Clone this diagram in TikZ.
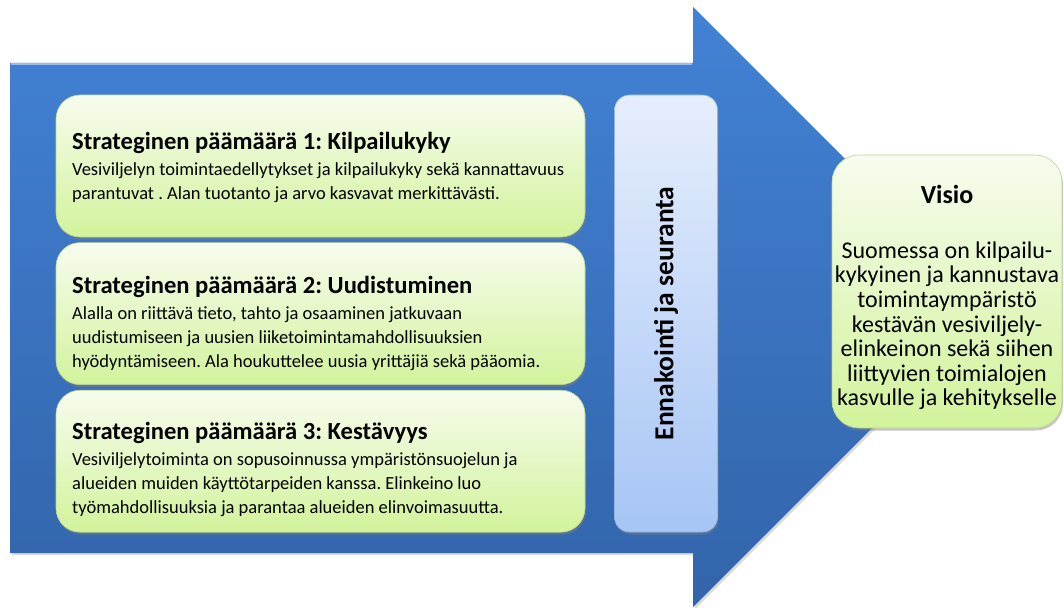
\documentclass[tikz,border=0pt]{standalone}
\usepackage{fontspec}
\setmainfont{Carlito}
\usetikzlibrary{positioning,shadows}
\frenchspacing

\definecolor{arrowtop}{RGB}{66,130,213}
\definecolor{arrowbot}{RGB}{50,100,170}
\definecolor{goaltop}{RGB}{247,252,238}
\definecolor{goalbot}{RGB}{210,243,155}
\definecolor{goalline}{RGB}{184,214,140}
\definecolor{sidetop}{RGB}{230,238,252}
\definecolor{sidebot}{RGB}{166,197,245}
\definecolor{sideline}{RGB}{150,180,225}

\tikzset{
  goalbox/.style={rounded corners=24pt, draw=goalline, line width=0.6pt,
    top color=goaltop, bottom color=goalbot, minimum width=529pt, minimum height=142pt,
    drop shadow={opacity=0.45, shadow xshift=1pt, shadow yshift=-2.5pt}},
  sidebox/.style={rounded corners=15pt, draw=sideline, line width=0.6pt,
    top color=sidetop, bottom color=sidebot, minimum width=103pt, minimum height=437pt,
    drop shadow={opacity=0.45, shadow xshift=1pt, shadow yshift=-2.5pt}},
  visiobox/.style={goalbox, rounded corners=27pt, minimum width=230pt, minimum height=273pt},
  headtext/.style={anchor=base west, inner sep=0pt, font=\fontsize{24.6}{29}\selectfont\bfseries},
  bodytext/.style={anchor=north west, yshift=16.8pt, inner sep=0pt, align=left,
    font=\fontsize{18.5}{24}\selectfont},
  sidetext/.style={rotate=90, inner sep=0pt, font=\fontsize{27.5}{32}\selectfont\bfseries},
  visiotitle/.style={anchor=base, inner sep=0pt, font=\fontsize{26}{31}\selectfont\bfseries},
  visiotext/.style={anchor=north, yshift=17.2pt, inner sep=0pt, align=center,
    font=\fontsize{24}{24.6}\selectfont}
}

\begin{document}
\begin{tikzpicture}[x=1pt,y=-1pt,node distance=5pt]
  \useasboundingbox (0,0) rectangle (1064,607);

  % the big arrow
  \shade[top color=arrowtop, bottom color=arrowbot,
    drop shadow={opacity=0.3, shadow xshift=2pt, shadow yshift=-2pt}]
    (10,63) -- (693,63) -- (693,7) -- (993,307) -- (693,607) -- (693,553) -- (10,553) -- cycle;
  \draw[arrowtop!55!white, line width=1.2pt] (11,64) -- (692,64);

  \node[goalbox] (goal1) at (320.5,166) {};
  \node[goalbox, below=of goal1] (goal2) {};
  \node[goalbox, below=of goal2] (goal3) {};

  \node[headtext] (head1) at (72,149) {Strateginen päämäärä 1: Kilpailukyky};
  \node[bodytext] (body1) at (72,175) {\strut Vesiviljelyn toimintaedellytykset ja kilpailukyky sekä kannattavuus\\
    parantuvat . Alan tuotanto ja arvo kasvavat merkittävästi.};

  \node[headtext] (head2) at (72,293) {Strateginen päämäärä 2: Uudistuminen};
  \node[bodytext] (body2) at (72,319) {\strut Alalla on riittävä tieto, tahto ja osaaminen jatkuvaan\\
    uudistumiseen ja uusien liiketoimintamahdollisuuksien\\
    hyödyntämiseen. Ala houkuttelee uusia yrittäjiä sekä pääomia.};

  \node[headtext] (head3) at (72,439) {Strateginen päämäärä 3: Kestävyys};
  \node[bodytext] (body3) at (72,465) {\strut Vesiviljelytoiminta on sopusoinnussa ympäristönsuojelun ja\\
    alueiden muiden käyttötarpeiden kanssa. Elinkeino luo\\
    työmahdollisuuksia ja parantaa alueiden elinvoimasuutta.};

  \node[sidebox] (side) at (666,313.5) {};
  \node[sidetext] (sidelabel) at (side.center) {Ennakointi ja seuranta};

  \node[visiobox] (visio) at (947,291.5) {};
  \node[visiotitle] (vtitle) at (947,203) {Visio};
  \node[visiotext] (vtext) at (947,258) {\strut Suomessa on kilpailu-\\
    kykyinen ja kannustava\\
    toimintaympäristö\\
    kestävän vesiviljely-\\
    elinkeinon sekä siihen\\
    liittyvien toimialojen\\
    kasvulle ja kehitykselle};
\end{tikzpicture}
\end{document}
